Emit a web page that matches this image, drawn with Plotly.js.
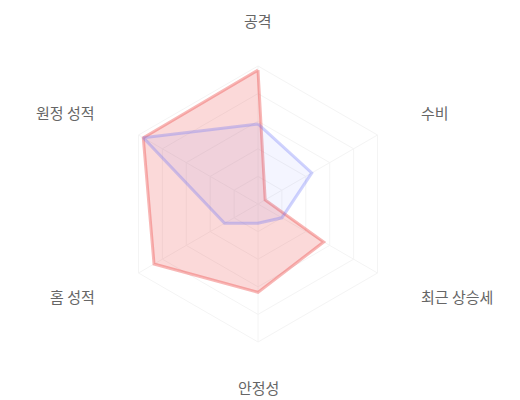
<!DOCTYPE html>
<html>
<head>
<meta charset="utf-8">
<script src="https://cdn.plot.ly/plotly-3.0.1.min.js"></script>
<style>
  html, body { margin: 0; padding: 0; background: #fff; }
  #chart { width: 520px; height: 400px; }
</style>
</head>
<body>
<div id="chart"></div>
<script>
// axes of the radar, clockwise from the top
var categories = ['공격', '수비', '최근 상승세', '안정성', '홈 성적', '원정 성적'];

// two teams (0-100 scale)
var teamA = [97, 6, 55, 64, 87, 96];
var teamB = [58, 45, 20, 14, 28, 96];

function closed(arr) {
    // repeat the first point so the outline closes
    return arr.concat([arr[0]]);
}

var traceA = {
    type: 'scatterpolar',
    r: closed(teamA),
    theta: closed(categories),
    fill: 'toself',
    fillcolor: 'rgba(239, 83, 80, 0.22)',
    line: { color: 'rgba(239, 83, 80, 0.42)', width: 3 },
    mode: 'lines',
    hoverinfo: 'skip',
    showlegend: false
};

var traceB = {
    type: 'scatterpolar',
    r: closed(teamB),
    theta: closed(categories),
    fill: 'toself',
    fillcolor: 'rgba(99, 110, 250, 0.07)',
    line: { color: 'rgba(99, 110, 250, 0.3)', width: 3 },
    mode: 'lines',
    hoverinfo: 'skip',
    showlegend: false
};

// plot area and label ring (pixels), labels sit further out than plotly's own
var margin = { l: 40, r: 44, t: 66, b: 58 };
var plotW = 520 - margin.l - margin.r;
var plotH = 400 - margin.t - margin.b;
var labelR = 184;

// category labels around the web, clockwise from the top
var labels = categories.map(function (name, i) {
    var ang = i * 2 * Math.PI / categories.length;
    var dx = labelR * Math.sin(ang);
    var dy = labelR * Math.cos(ang);
    var side = Math.abs(dx) < 1 ? 'center' : (dx > 0 ? 'left' : 'right');
    if (side !== 'center') {
        dx = dx > 0 ? dx + 2 : dx - 2;
    }
    return {
        text: name,
        xref: 'paper', yref: 'paper',
        x: 0.5 + dx / plotW,
        y: 0.5 + dy / plotH,
        xanchor: side,
        yanchor: 'middle',
        showarrow: false,
        font: { size: 15, color: '#666' }
    };
});

var layout = {
    width: 520,
    height: 400,
    margin: margin,
    paper_bgcolor: '#fff',
    font: { family: '"Noto Sans CJK KR", "Noto Sans", sans-serif', size: 15, color: '#666' },
    annotations: labels,
    polar: {
        bgcolor: 'rgba(0,0,0,0)',
        gridshape: 'linear',
        radialaxis: {
            range: [0, 100],
            dtick: 20,
            showticklabels: false,
            ticks: '',
            showline: false,
            gridcolor: '#f4f4f4',
            gridwidth: 1
        },
        angularaxis: {
            direction: 'clockwise',
            rotation: 90,
            showticklabels: false,
            ticks: '',
            linecolor: '#f4f4f4',
            gridcolor: '#f4f4f4'
        }
    }
};

Plotly.newPlot('chart', [traceA, traceB], layout, { displayModeBar: false, staticPlot: true });
</script>
</body>
</html>
